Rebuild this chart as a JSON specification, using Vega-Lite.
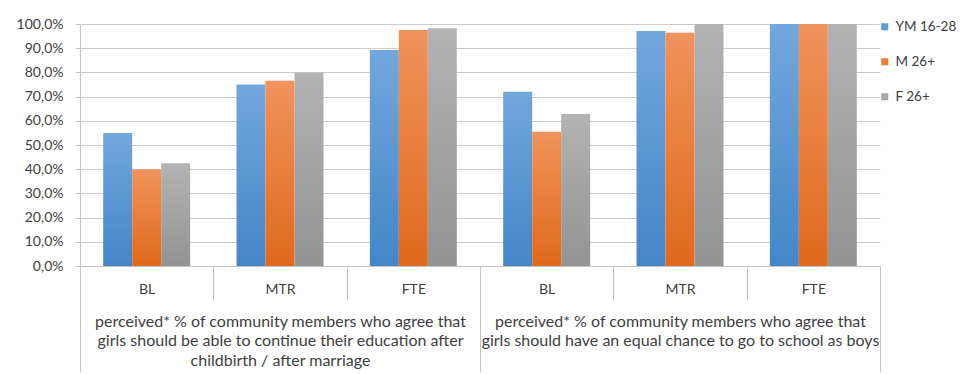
{
  "$schema": "https://vega.github.io/schema/vega-lite/v6.json",
  "width": 800,
  "height": 242,
  "autosize": {"type": "none"},
  "padding": {"left": 80, "top": 24, "right": 82, "bottom": 108},
  "background": "white",
  "config": {"font": "Lato", "view": {"stroke": null}},
  "data": {
    "values": [
      {"grp": "perceived* % of community members who agree that|girls should be able to continue their education after|childbirth / after marriage", "cat": "BL-1", "series": "YM 16-28", "value": 0.55},
      {"grp": "perceived* % of community members who agree that|girls should be able to continue their education after|childbirth / after marriage", "cat": "BL-1", "series": "M 26+", "value": 0.40},
      {"grp": "perceived* % of community members who agree that|girls should be able to continue their education after|childbirth / after marriage", "cat": "BL-1", "series": "F 26+", "value": 0.425},
      {"grp": "perceived* % of community members who agree that|girls should be able to continue their education after|childbirth / after marriage", "cat": "MTR-1", "series": "YM 16-28", "value": 0.75},
      {"grp": "perceived* % of community members who agree that|girls should be able to continue their education after|childbirth / after marriage", "cat": "MTR-1", "series": "M 26+", "value": 0.765},
      {"grp": "perceived* % of community members who agree that|girls should be able to continue their education after|childbirth / after marriage", "cat": "MTR-1", "series": "F 26+", "value": 0.80},
      {"grp": "perceived* % of community members who agree that|girls should be able to continue their education after|childbirth / after marriage", "cat": "FTE-1", "series": "YM 16-28", "value": 0.893},
      {"grp": "perceived* % of community members who agree that|girls should be able to continue their education after|childbirth / after marriage", "cat": "FTE-1", "series": "M 26+", "value": 0.975},
      {"grp": "perceived* % of community members who agree that|girls should be able to continue their education after|childbirth / after marriage", "cat": "FTE-1", "series": "F 26+", "value": 0.982},
      {"grp": "perceived* % of community members who agree that|girls should have an equal chance to go to school as boys", "cat": "BL-2", "series": "YM 16-28", "value": 0.72},
      {"grp": "perceived* % of community members who agree that|girls should have an equal chance to go to school as boys", "cat": "BL-2", "series": "M 26+", "value": 0.555},
      {"grp": "perceived* % of community members who agree that|girls should have an equal chance to go to school as boys", "cat": "BL-2", "series": "F 26+", "value": 0.628},
      {"grp": "perceived* % of community members who agree that|girls should have an equal chance to go to school as boys", "cat": "MTR-2", "series": "YM 16-28", "value": 0.971},
      {"grp": "perceived* % of community members who agree that|girls should have an equal chance to go to school as boys", "cat": "MTR-2", "series": "M 26+", "value": 0.964},
      {"grp": "perceived* % of community members who agree that|girls should have an equal chance to go to school as boys", "cat": "MTR-2", "series": "F 26+", "value": 1.0},
      {"grp": "perceived* % of community members who agree that|girls should have an equal chance to go to school as boys", "cat": "FTE-2", "series": "YM 16-28", "value": 1.0},
      {"grp": "perceived* % of community members who agree that|girls should have an equal chance to go to school as boys", "cat": "FTE-2", "series": "M 26+", "value": 1.0},
      {"grp": "perceived* % of community members who agree that|girls should have an equal chance to go to school as boys", "cat": "FTE-2", "series": "F 26+", "value": 1.0}
    ]
  },
  "layer": [
    {
      "mark": {"type": "bar", "strokeWidth": 0},
      "encoding": {
        "x": {
          "field": "cat",
          "type": "nominal",
          "sort": null,
          "scale": {"paddingInner": 0, "paddingOuter": 0},
          "axis": {
            "orient": "bottom",
            "title": null,
            "tickBand": "extent",
            "tickSize": 34,
            "tickColor": "#c4c4c4",
            "domainColor": "#c4c4c4",
            "labelExpr": "split(datum.label, '-')[0]",
            "labelPadding": -18,
            "labelAngle": 0,
            "labelFontSize": 14,
            "labelColor": "#404040"
          }
        },
        "xOffset": {
          "field": "series",
          "type": "nominal",
          "sort": ["YM 16-28", "M 26+", "F 26+"],
          "scale": {"paddingInner": 0, "paddingOuter": 0.8}
        },
        "y": {
          "field": "value",
          "type": "quantitative",
          "scale": {"domain": [0, 1]},
          "axis": {
            "title": null,
            "values": [0, 0.1, 0.2, 0.3, 0.4, 0.5, 0.6, 0.7, 0.8, 0.9, 1.0],
            "labelExpr": "replace(format(datum.value, '.1%'), '.', ',')",
            "labelOverlap": false,
            "grid": true,
            "gridColor": "#cccccc",
            "gridWidth": 1.2,
            "domainColor": "#c4c4c4",
            "tickColor": "#c4c4c4",
            "tickSize": 5,
            "labelPadding": 12,
            "labelFontSize": 14,
            "labelColor": "#404040"
          }
        },
        "fill": {
          "condition": [
            {"test": "datum.series === 'YM 16-28'", "value": {"gradient": "linear", "x1": 0, "y1": 0, "x2": 0, "y2": 1, "stops": [{"offset": 0, "color": "#72a7dd"}, {"offset": 1, "color": "#4386c8"}]}},
            {"test": "datum.series === 'M 26+'", "value": {"gradient": "linear", "x1": 0, "y1": 0, "x2": 0, "y2": 1, "stops": [{"offset": 0, "color": "#f0935c"}, {"offset": 1, "color": "#e0691b"}]}}
          ],
          "value": {"gradient": "linear", "x1": 0, "y1": 0, "x2": 0, "y2": 1, "stops": [{"offset": 0, "color": "#b3b3b3"}, {"offset": 1, "color": "#939393"}]}
        }
      }
    },
    {
      "mark": {"type": "bar", "opacity": 0},
      "encoding": {
        "x": {
          "field": "grp",
          "type": "nominal",
          "sort": null,
          "scale": {"paddingInner": 0, "paddingOuter": 0},
          "axis": {
            "orient": "bottom",
            "title": null,
            "tickBand": "extent",
            "tickSize": 106,
            "tickColor": "#c4c4c4",
            "domain": false,
            "labelExpr": "split(datum.label, '|')",
            "labelPadding": -59,
            "labelAngle": 0,
            "labelFontSize": 16,
            "labelLineHeight": 19.5,
            "labelColor": "#404040",
            "labelOverlap": false,
            "labelBound": false,
            "labelFlush": false,
            "labelLimit": 0
          }
        },
        "y": {
          "field": "value",
          "type": "quantitative",
          "stack": null,
          "scale": {"domain": [0, 1]},
          "axis": {
            "title": null,
            "values": [0, 0.1, 0.2, 0.3, 0.4, 0.5, 0.6, 0.7, 0.8, 0.9, 1.0],
            "labelExpr": "replace(format(datum.value, '.1%'), '.', ',')",
            "labelOverlap": false,
            "grid": true,
            "gridColor": "#cccccc",
            "gridWidth": 1.2,
            "domainColor": "#c4c4c4",
            "tickColor": "#c4c4c4",
            "tickSize": 5,
            "labelPadding": 12,
            "labelFontSize": 14,
            "labelColor": "#404040"
          }
        },
        "color": {
          "field": "series",
          "type": "nominal",
          "sort": ["YM 16-28", "M 26+", "F 26+"],
          "scale": {"domain": ["YM 16-28", "M 26+", "F 26+"], "range": ["#5b9bd5", "#ed7d31", "#a5a5a5"]},
          "legend": {
            "orient": "none",
            "legendX": 798,
            "legendY": -4,
            "title": null,
            "symbolType": "square",
            "symbolSize": 49,
            "symbolOpacity": 1,
            "symbolStrokeWidth": 0,
            "labelFontSize": 13.5,
            "labelColor": "#404040",
            "labelOffset": 4,
            "labelLimit": 0,
            "rowPadding": 20
          }
        }
      }
    }
  ],
  "resolve": {"scale": {"x": "independent"}}
}
